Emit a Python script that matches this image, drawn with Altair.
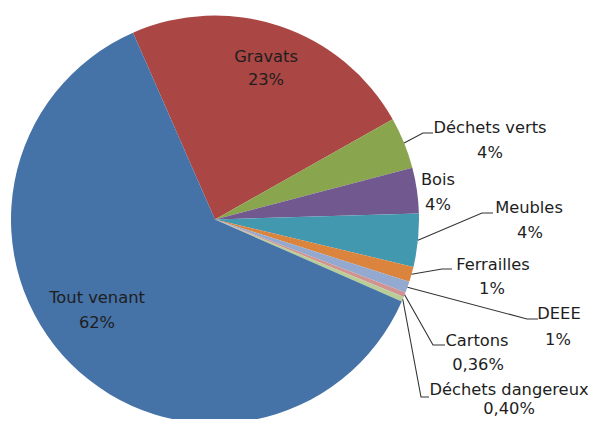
import math
import pandas as pd
import altair as alt

# ---- data ----
categories = ["Gravats", "Déchets verts", "Bois", "Meubles", "Ferrailles",
              "DEEE", "Cartons", "Déchets dangereux", "Tout venant"]
values = [23.4, 4.1, 3.6, 4.2, 1.2, 0.9, 0.36, 0.40, 61.8]
pct_labels = ["23%", "4%", "4%", "4%", "1%", "1%", "0,36%", "0,40%", "62%"]
colors = ["#AA4643", "#89A54E", "#71588F", "#4198AF", "#DB843D",
          "#93A9CF", "#D19392", "#B9CD96", "#4572A7"]

# ---- layout (plot coordinates) ----
M = 8
CX, CY, R = 215 - M, 219.5 - M, 204
START = math.radians(-23.7)

label_layout = {
    "Gravats": (266, 57, 266, 80),
    "Déchets verts": (490, 128, 490, 153),
    "Bois": (438, 180, 438, 205),
    "Meubles": (529, 208, 530, 233),
    "Ferrailles": (493, 265, 492, 289),
    "DEEE": (559, 314, 558, 340),
    "Cartons": (477, 341, 478, 365),
    "Déchets dangereux": (509, 390, 509, 409),
    "Tout venant": (97, 298, 97, 323),
}
leader_layout = {
    "Déchets verts": [(423, 133), (433, 133)],
    "Meubles": [(482, 213), (493, 213)],
    "Ferrailles": [(442, 269), (452, 269)],
    "DEEE": [(527, 319), (538, 319)],
    "Cartons": [(433, 345), (445, 345)],
    "Déchets dangereux": [(421, 397), (429, 397)],
}

pie_df = pd.DataFrame({"cat": categories, "value": values,
                       "idx": list(range(len(categories)))})

total = sum(values)
cum = 0.0
mids = {}
for c, v in zip(categories, values):
    a0 = START + cum / total * 2 * math.pi
    cum += v
    a1 = START + cum / total * 2 * math.pi
    mids[c] = (a0 + a1) / 2

lead_rows = []
for c, pts in leader_layout.items():
    a = mids[c]
    lead_rows.append({"cat": c, "o": 0, "x": CX + R * math.sin(a), "y": CY - R * math.cos(a)})
    for i, (px, py) in enumerate(pts):
        lead_rows.append({"cat": c, "o": i + 1, "x": px - M, "y": py - M})
lead_df = pd.DataFrame(lead_rows)

text_rows = []
for c, p in zip(categories, pct_labels):
    x1, y1, x2, y2 = label_layout[c]
    text_rows.append({"t": c, "x": x1 - M, "y": y1 - M})
    text_rows.append({"t": p, "x": x2 - M, "y": y2 - M})
text_df = pd.DataFrame(text_rows)

pie = alt.Chart(pie_df).mark_arc(outerRadius=R, strokeWidth=0).encode(
    theta=alt.Theta("value:Q", stack=True,
                    scale=alt.Scale(range=[START, START + 2 * math.pi])),
    color=alt.Color("cat:N", scale=alt.Scale(domain=categories, range=colors), legend=None),
    order=alt.Order("idx:Q"),
    x=alt.value(CX),
    y=alt.value(CY),
)

leaders = alt.Chart(lead_df).mark_line(color="#333333", strokeWidth=1.1).encode(
    x=alt.X("x:Q", scale=None, axis=None),
    y=alt.Y("y:Q", scale=None, axis=None),
    detail="cat:N",
    order="o:Q",
)

labels = alt.Chart(text_df).mark_text(font="DejaVu Sans", fontSize=16.3, color="#1e1e1e",
                                       align="center", baseline="middle").encode(
    x=alt.X("x:Q", scale=None, axis=None),
    y=alt.Y("y:Q", scale=None, axis=None),
    text="t:N",
)

chart = alt.layer(pie, leaders, labels).properties(
    width=586, height=411, padding=0,
    autosize=alt.AutoSizeParams(type="none"),
).configure_view(stroke=None)

chart.save("out.html", embed_options={"renderer": "svg", "actions": False})
